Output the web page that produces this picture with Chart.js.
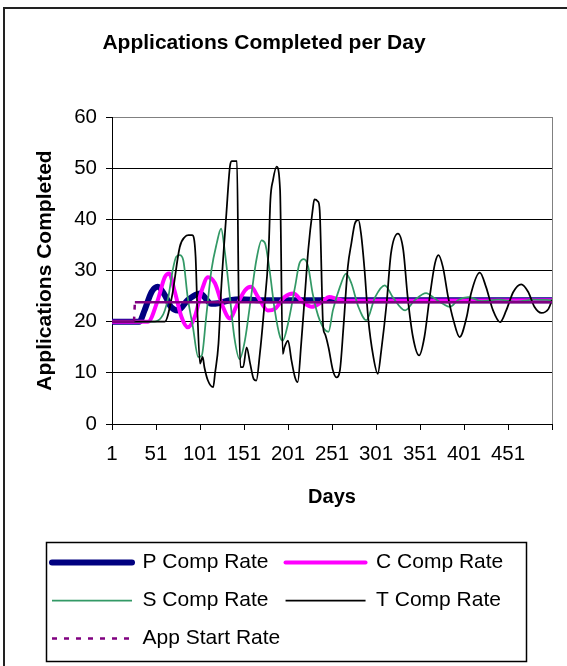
<!DOCTYPE html>
<html>
<head>
<meta charset="utf-8">
<script src="https://cdn.jsdelivr.net/npm/chart.js@4.4.0/dist/chart.umd.min.js"></script>
<style>
  html, body { margin: 0; padding: 0; background: #fff; }
  #wrap { width: 567px; height: 666px; }
</style>
</head>
<body>
<div id="wrap"><canvas id="appChart" width="567" height="666"></canvas></div>
<script>
// values (day, applications completed)
const xTicks = [1, 51, 101, 151, 201, 251, 301, 351, 401, 451, 501];
const xTickLabels = ['1', '51', '101', '151', '201', '251', '301', '351', '401', '451', ''];
const yTicks = [0, 10, 20, 30, 40, 50, 60];

const pDays = [1, 32, 38, 46, 53, 61, 68, 76, 87, 101, 114, 122, 135, 148, 170, 501];
const pValues = [20, 20, 22.2, 25.8, 26.8, 25.2, 22.9, 22.2, 24.2, 25.5, 23.5, 23.6, 24.2, 24.4, 24.2, 24.2];

const cDays = [1, 42, 53, 61, 66, 72, 80, 87, 95, 103, 110, 118, 127, 135, 142, 152, 159, 167, 178, 186,
  197, 207, 218, 228, 239, 248, 256, 265, 501];
const cValues = [20, 20, 24.2, 28.7, 29.4, 26.1, 20.9, 18.9, 20.9, 26.1, 28.7, 27.5, 22.9, 20.6, 22.9, 26.1, 26.8, 24.8, 22.2, 22.5,
  24.8, 25.5, 23.8, 22.9, 23.8, 24.8, 24.5, 24.1, 24.2];

const sDays = [1, 49, 57, 61, 65, 70, 74, 78, 82, 87, 93, 99, 103, 108, 114, 120, 125, 129, 135, 140,
  146, 152, 159, 165, 171, 175, 180, 186, 192, 195, 201, 209, 214, 219, 224, 229, 237, 247, 252, 260,
  267, 273, 281, 290, 300, 311, 320, 334, 345, 358, 368, 377, 385, 394, 406, 421, 440, 460, 480, 501];
const sValues = [20, 20, 20.8, 22.2, 24.8, 30.1, 32.7, 33.0, 32.0, 24.8, 18.9, 13.1, 13.4, 20.9, 30.1, 35.3, 38.2, 34.0, 24.8, 17.0,
  12.7, 16.3, 24.8, 32.0, 35.9, 35.3, 30.1, 22.2, 17.0, 16.3, 19.6, 26.8, 31.4, 32.2, 30.7, 25.5, 20.3, 18.0, 22.2, 26.8,
  29.4, 27.5, 22.9, 20.3, 24.8, 27.1, 24.8, 22.2, 24.2, 25.6, 24.5, 23.5, 22.9, 24.2, 24.8, 24.0, 24.3, 23.9, 24.3, 24.2];

const tDays = [1, 61, 69, 78, 84, 88, 92, 96, 98, 101, 104, 106, 110, 116, 118, 122, 125, 131, 135, 137,
  143, 145, 147, 150, 154, 158, 162, 165, 169, 173, 179, 181, 184, 188, 192, 195, 197, 201, 205, 209,
  212, 216, 220, 224, 229, 231, 235, 237, 241, 243, 247, 252, 256, 260, 264, 269, 273, 277, 281, 284,
  288, 292, 298, 303, 307, 313, 318, 326, 332, 337, 343, 350, 356, 362, 368, 372, 377, 383, 389, 396,
  404, 409, 419, 426, 434, 442, 449, 457, 466, 474, 481, 489, 497, 501];
const tValues = [20, 20, 24.8, 34.6, 36.6, 36.9, 36.9, 32.7, 22.2, 11.8, 13.1, 11.1, 8.5, 7.2, 9.8, 15.7, 26.1, 41.2, 50.3, 51.4,
  51.4, 24.2, 11.1, 11.1, 15.0, 11.8, 8.8, 8.5, 13.7, 20.9, 34.0, 43.8, 47.7, 50.3, 45.7, 13.7, 15.0, 16.3, 12.4, 9.1,
  8.2, 15.7, 24.8, 34.0, 41.8, 43.9, 43.5, 41.8, 18.9, 17.6, 15.0, 10.5, 9.1, 10.5, 18.9, 30.7, 35.3, 39.2, 39.9, 37.2,
  30.1, 20.9, 13.1, 9.8, 14.4, 23.5, 33.3, 37.2, 34.0, 24.8, 17.0, 13.4, 17.0, 24.8, 31.4, 33.0, 30.7, 24.8, 20.3, 17.0,
  20.9, 25.5, 29.6, 26.8, 22.2, 19.9, 22.2, 25.8, 27.3, 25.8, 22.9, 21.7, 22.5, 24.2];

const appDays = [1, 26, 27, 501];
const appValues = [20, 20, 23.8, 23.8];

function pts(days, vals) {
    return days.map((d, i) => ({ x: d, y: vals[i] }));
}

Chart.defaults.font.family = '"Liberation Sans", Arial, sans-serif';
Chart.defaults.color = '#000';

// outer frame + legend box, like the excel chart
const framePlugin = {
    id: 'frame',
    afterLayout(chart) {
        // title is centred over the whole picture, not the padded box
        chart.titleBlock.left = 0;
        chart.titleBlock.right = 528;
    },
    afterDraw(chart) {
        const c = chart.ctx;
        c.save();
        c.strokeStyle = '#222';
        c.lineWidth = 2;
        c.strokeRect(4, 8, 700, 700);
        c.lineWidth = 1.5;
        c.strokeStyle = '#000';
        c.strokeRect(46.5, 542.5, 480, 119);
        c.restore();
    }
};

const smooth = { pointRadius: 0, fill: false, cubicInterpolationMode: 'monotone' };

new Chart(document.getElementById('appChart').getContext('2d'), {
    type: 'line',
    data: {
        datasets: [
            Object.assign({ label: 'P Comp Rate', data: pts(pDays, pValues), borderColor: '#000080', backgroundColor: '#000080',
                borderWidth: 6, borderCapStyle: 'round', order: 5 }, smooth),
            Object.assign({ label: 'C Comp Rate', data: pts(cDays, cValues), borderColor: '#ff00ff', backgroundColor: '#ff00ff',
                borderWidth: 4, borderCapStyle: 'round', order: 4 }, smooth),
            Object.assign({ label: 'S Comp Rate', data: pts(sDays, sValues), borderColor: '#339966', backgroundColor: '#339966',
                borderWidth: 1.75, order: 3 }, smooth),
            Object.assign({ label: 'T Comp Rate', data: pts(tDays, tValues), borderColor: '#000', backgroundColor: '#000',
                borderWidth: 1.75, order: 2 }, smooth),
            { label: 'App Start Rate', data: pts(appDays, appValues), borderColor: '#800080', backgroundColor: '#800080',
                borderWidth: 2.5, borderDash: [5, 7], pointRadius: 0, fill: false, tension: 0, order: 1,
                segment: { borderDash: s => (s.p0.parsed.y === s.p1.parsed.y ? [] : undefined) } }
        ]
    },
    options: {
        responsive: false,
        animation: false,
        layout: { padding: { left: 35, right: 15, top: 0, bottom: 7 } },
        plugins: {
            title: {
                display: true,
                text: 'Applications Completed per Day',
                font: { size: 21, weight: 'bold', lineHeight: 1.2 },
                padding: { top: 31, bottom: 60.8 },
                color: '#000'
            },
            legend: {
                position: 'bottom',
                align: 'start',
                labels: {
                    usePointStyle: true,
                    pointStyle: 'line',
                    pointStyleWidth: 80,
                    padding: 17,
                    font: { size: 21 },
                    color: '#000',
                    sort: (a, b) => a.datasetIndex - b.datasetIndex,
                    generateLabels: chart => {
                        const items = Chart.defaults.plugins.legend.labels.generateLabels(chart);
                        items.forEach(it => {
                            const ds = chart.data.datasets[it.datasetIndex];
                            it.lineDash = ds.borderDash || [];
                            it.lineCap = ds.borderCapStyle || 'butt';
                            it.lineWidth = ds.borderWidth;
                        });
                        return items;
                    }
                }
            },
            tooltip: { enabled: false }
        },
        scales: {
            x: {
                type: 'linear',
                min: 1,
                max: 501,
                afterBuildTicks: s => { s.ticks = xTicks.map(v => ({ value: v })); },
                afterFit: s => { s.height = 111; },
                ticks: {
                    autoSkip: false,
                    maxRotation: 0,
                    padding: 12,
                    font: { size: 20.5 },
                    callback: (v, i) => xTickLabels[i]
                },
                grid: {
                    drawOnChartArea: true,
                    color: c => (c.tick && c.tick.value === 501 ? '#808080' : 'rgba(0,0,0,0)'),
                    tickColor: '#000',
                    tickLength: 6,
                    lineWidth: 1
                },
                border: { color: '#000', width: 1 },
                title: {
                    display: true,
                    text: 'Days',
                    font: { size: 20, weight: 'bold', lineHeight: 1.2 },
                    padding: { top: 0, bottom: 26 }
                }
            },
            y: {
                min: 0,
                max: 60,
                afterBuildTicks: s => { s.ticks = yTicks.map(v => ({ value: v })); },
                afterFit: s => { s.width = 77; },
                ticks: { padding: 9, font: { size: 20.5 } },
                grid: {
                    color: c => (c.tick && c.tick.value === 60 ? '#808080' : '#000'),
                    tickColor: '#000',
                    tickLength: 6,
                    lineWidth: 1
                },
                border: { color: '#000', width: 1 },
                title: {
                    display: true,
                    text: 'Applications Completed',
                    font: { size: 21, weight: 'bold', lineHeight: 1 },
                    padding: 0
                }
            }
        }
    },
    plugins: [framePlugin]
});
</script>
</body>
</html>
